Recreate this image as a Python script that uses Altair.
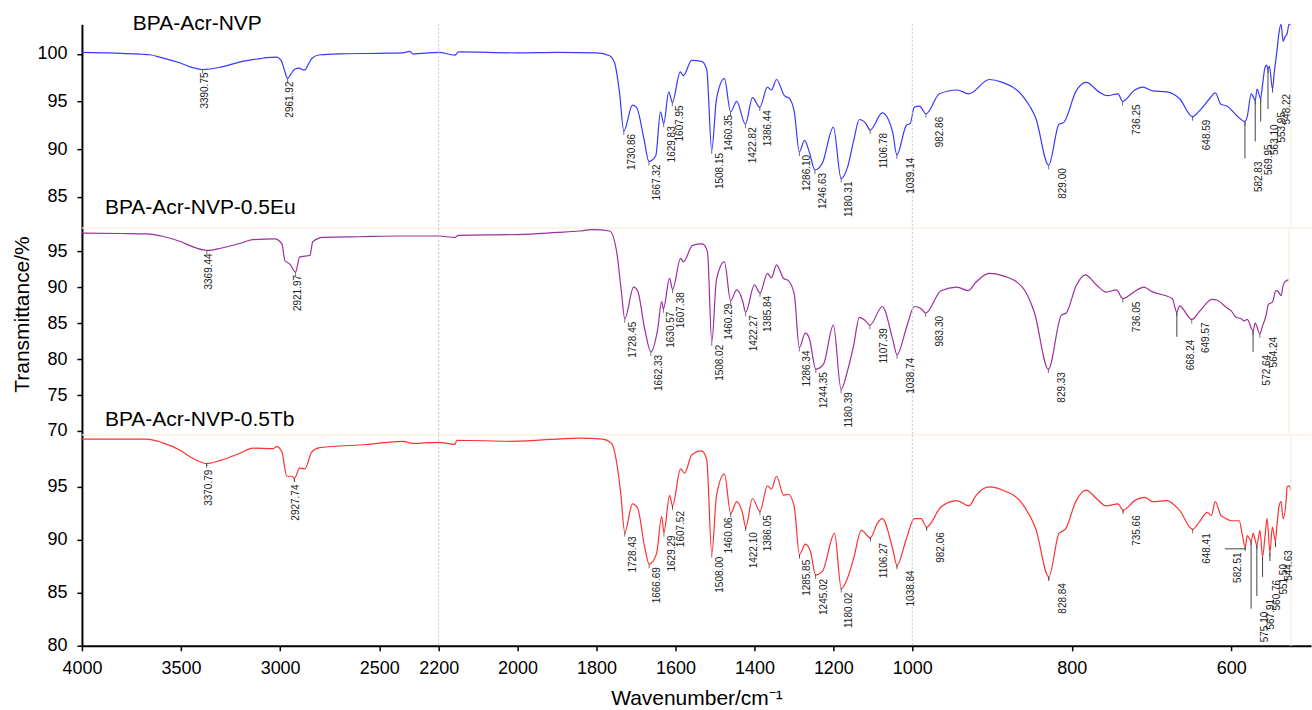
import altair as alt
import pandas as pd

FONT = "Liberation Sans"

# ---------------- x axis: broken wavenumber scale ----------------
X_TICKS = [4000, 3500, 3000, 2500, 2200, 2000, 1800, 1600, 1400, 1200, 1000, 800, 600]
X_BREAKS = [4000, 2200, 1000, 500]
X_PIXELS = [0, 357, 831, 1230]
PLOT_W = 1230
BREAK_LINES = [2200, 1000]

# ---------------- BPA-Acr-NVP ----------------
NVP_WN = [4000, 3900, 3800, 3700, 3657, 3600, 3500, 3450, 3390.75, 3300, 3200, 3100, 3067, 3017,
          2995, 2980, 2961.92, 2945, 2925, 2901, 2890, 2875, 2855, 2840, 2800, 2700, 2500, 2381,
          2346, 2331, 2200, 2159, 2150, 2000, 1900, 1800, 1767, 1754, 1742, 1730.86, 1709, 1699,
          1680, 1667.32, 1650, 1638, 1629.83, 1617, 1607.95, 1588, 1580, 1559, 1534, 1521, 1508.15,
          1496, 1476, 1460.35, 1445, 1422.82, 1405, 1386.44, 1367, 1357, 1344, 1324, 1311, 1299,
          1286.10, 1273, 1261, 1246.63, 1228, 1200, 1180.31, 1164, 1149, 1134, 1118, 1106.78, 1076,
          1050, 1039.14, 1015, 1005, 997.5, 991, 982.86, 966, 944, 929, 903.5, 887, 862, 845,
          829.00, 816, 810, 794.5, 782, 766, 755.6, 742, 736.25, 721, 711, 698.5, 681, 665, 648.59,
          640, 628, 620, 613, 605, 593, 582.83, 580, 575, 572.5, 569.95, 567.6, 563.10, 561, 557.6,
          556, 553.95, 552.3, 548.22, 546, 542.7, 540, 537.5, 535, 532.5, 530, 527.5, 525]
NVP_T = [100.15, 100.1, 100.05, 99.95, 99.9, 99.6, 99.0, 98.6, 98.35, 98.6, 99.15, 99.5, 99.6, 99.65,
         99.3, 98.4, 97.4, 97.9, 98.4, 98.5, 98.35, 98.3, 99.0, 99.5, 99.9, 100.0, 100.05, 100.1,
         100.25, 100.0, 100.15, 99.85, 100.2, 100.1, 100.15, 100.1, 99.8, 99.0, 96.0, 91.9, 94.6, 94.4,
         91.1, 88.7, 89.3, 93.9, 92.7, 96.0, 94.9, 98.1, 97.7, 99.3, 99.2, 98.4, 89.9,
         95.3, 97.4, 93.9, 95.0, 92.6, 95.4, 94.4, 96.5, 96.2, 97.3, 95.6, 95.3, 93.9,
         89.7, 90.9, 89.7, 87.8, 88.5, 92.3, 86.9, 88.1, 90.8, 93.1, 92.7, 92.0, 93.8,
         91.8, 89.4, 92.5, 92.7, 94.4, 94.5, 93.7, 95.8, 96.2, 95.8, 97.3, 97.0, 95.6, 93.2,
         88.3, 92.6, 92.8, 96.1, 97.0, 96.0, 95.6, 95.8, 95.0, 96.2, 96.5, 96.1, 96.0, 95.3, 93.4,
         94.0, 95.2, 95.9, 94.7, 94.5, 93.5, 92.9, 93.4, 95.8, 95.5, 95.1, 96.3, 95.3, 96.6, 98.6,
         98.8, 98.4, 98.7, 96.3, 98.1, 100.3, 102.3, 103.1, 101.3, 101.8, 102.1, 103.1, 103.0]
NVP_PEAKS = ["3390.75", "2961.92", "1730.86", "1667.32", "1629.83", "1607.95", "1508.15", "1460.35",
             "1422.82", "1386.44", "1286.10", "1246.63", "1180.31", "1106.78", "1039.14", "982.86",
             "829.00", "736.25", "648.59", "582.83", "569.95", "563.10", "553.95", "548.22"]
NVP_PEAK_T = [98.35, 97.4, 91.9, 88.7, 92.7, 94.9, 89.9, 93.9, 92.6, 94.4, 89.7, 87.8, 86.9, 92.0,
              89.4, 93.7, 88.3, 95.0, 93.4, 92.9, 95.1, 95.3, 98.4, 96.3]
NVP_LABEL_T = [98.35, 97.4, 91.9, 88.7, 92.7, 94.9, 89.9, 93.9, 92.6, 94.4, 89.7, 87.8, 86.9, 92.0,
               89.4, 93.7, 88.3, 95.0, 93.4, 89.0, 90.8, 92.9, 94.2, 96.1]

# ---------------- BPA-Acr-NVP-0.5Eu ----------------
EU_WN = [4000, 3800, 3672, 3600, 3500, 3450, 3369.44, 3300, 3200, 3138, 3027, 2991, 2976, 2951,
         2921.97, 2901, 2875, 2850, 2835, 2785, 2600, 2400, 2200, 2159, 2150, 2000, 1900, 1843,
         1810, 1767, 1749, 1737, 1728.45, 1706, 1696, 1678, 1662.33, 1645, 1635, 1630.57, 1615,
         1607.38, 1587, 1580, 1557, 1532, 1519, 1508.02, 1496, 1476, 1460.29, 1445, 1430, 1422.27,
         1400, 1385.84, 1367, 1357, 1344, 1326, 1314, 1299, 1286.34, 1271, 1261, 1244.35, 1225,
         1200, 1180.39, 1164, 1149, 1134, 1120, 1107.39, 1076, 1050, 1038.74, 1013, 997.5, 989,
         983.30, 964, 944, 930, 920, 903.5, 887, 862, 847, 829.33, 813, 807, 794.5, 783, 769, 757,
         744, 736.05, 721, 709.6, 700, 674, 668.24, 665, 649.57, 640, 624, 618, 606.5, 600, 594,
         587.5, 584, 580, 572.64, 570, 564.24, 561, 556, 553.5, 548.5, 544, 541, 537.5, 535, 531,
         527.5]
EU_T = [97.5, 97.45, 97.4, 97.1, 96.3, 95.7, 95.1, 95.4, 96.1, 96.6, 96.7, 96.0, 93.7, 93.2,
        92.1, 94.2, 94.3, 94.4, 96.3, 96.9, 97.0, 97.1, 97.1, 96.9, 97.2, 97.3, 97.6, 97.8,
        98.0, 97.8, 94.9, 89.3, 85.6, 90.0, 89.5, 84.2, 81.0, 84.2, 88.0, 87.0, 91.2,
        89.7, 94.0, 93.5, 95.8, 96.0, 94.9, 82.4, 91.1, 93.5, 88.1, 89.6, 88.1, 86.5,
        90.3, 89.2, 91.9, 91.3, 93.1, 91.2, 90.9, 89.0, 81.6, 83.6, 82.9, 78.6, 79.3,
        84.7, 75.8, 78.4, 81.8, 85.8, 85.4, 84.7, 87.3, 82.8, 80.6, 84.7, 87.3, 87.0,
        86.4, 89.5, 90.0, 89.5, 90.7, 91.9, 91.6, 90.0, 86.5, 78.6, 86.1, 86.4, 90.2, 91.7, 90.3, 89.3,
        89.6, 88.4, 89.4, 90.0, 89.4, 88.4, 86.5, 87.4, 85.5, 86.6, 88.3, 88.2, 87.2, 86.7, 85.8,
        85.6, 85.3, 85.5, 83.9, 85.0, 83.5, 84.5, 86.25, 87.6, 87.9, 89.5, 89.35, 88.8, 90.2, 90.9,
        91.0]
EU_PEAKS = ["3369.44", "2921.97", "1728.45", "1662.33", "1630.57", "1607.38", "1508.02", "1460.29",
            "1422.27", "1385.84", "1286.34", "1244.35", "1180.39", "1107.39", "1038.74", "983.30",
            "829.33", "736.05", "668.24", "649.57", "572.64", "564.24"]
EU_PEAK_T = [95.1, 92.1, 85.6, 81.0, 87.0, 89.7, 82.4, 88.1, 86.5, 89.2, 81.6, 78.6, 75.8, 84.7,
             80.6, 86.4, 78.6, 88.4, 86.5, 85.5, 83.9, 83.5]
EU_LABEL_T = [95.1, 92.1, 85.6, 81.0, 87.0, 89.7, 82.4, 88.1, 86.5, 89.2, 81.6, 78.6, 75.8, 84.7,
              80.6, 86.4, 78.6, 88.4, 83.1, 85.5, 81.0, 83.5]

# ---------------- BPA-Acr-NVP-0.5Tb ----------------
TB_WN = [4000, 3800, 3672, 3600, 3500, 3450, 3370.79, 3300, 3200, 3138, 3037, 3017, 2991, 2966,
         2941, 2927.74, 2901, 2875, 2840, 2800, 2563, 2381, 2331, 2200, 2159, 2154, 2013, 1843,
         1785, 1762, 1749, 1739, 1728.43, 1709, 1696, 1678, 1666.69, 1648, 1635, 1629.29, 1615,
         1607.52, 1587, 1577, 1559, 1534, 1521, 1508.00, 1496, 1476, 1460.06, 1445, 1430, 1422.10,
         1405, 1386.05, 1367, 1357, 1344, 1326, 1314, 1299, 1285.85, 1271, 1258, 1245.02, 1228,
         1197, 1180.02, 1164, 1149, 1129, 1106.27, 1088, 1076, 1050, 1038.84, 1015, 997.5, 989,
         982.06, 964, 944, 929, 920, 903.5, 887, 862, 845, 828.84, 816, 808, 794.5, 782, 769, 757,
         742, 735.66, 721, 708.6, 698.5, 681, 665, 648.41, 640, 630, 625, 620, 613, 606.5, 600, 590,
         586, 582.51, 580, 575.10, 572.5, 567.91, 564, 560.76, 557.6, 555, 551.50, 548.5, 544.63,
         542.7, 540, 537.5, 535, 531, 530, 527.5, 525]
TB_T = [99.5, 99.5, 99.5, 99.2, 98.4, 97.8, 97.2, 97.5, 98.2, 98.65, 98.6, 98.8, 98.3, 96.0,
        96.0, 95.8, 96.8, 96.7, 98.3, 98.7, 99.0, 99.3, 99.1, 99.2, 99.0, 99.4, 99.3, 99.6,
        99.5, 99.1, 97.3, 94.5, 90.7, 93.4, 93.0, 89.3, 87.7, 88.7, 92.2, 90.7, 94.2,
        93.2, 96.7, 96.3, 98.0, 98.4, 97.6, 88.7, 94.2, 96.2, 92.5, 93.6, 92.5, 91.2,
        93.9, 92.7, 95.1, 94.8, 96.0, 94.2, 94.3, 93.1, 88.6, 89.6, 88.9, 86.7, 87.0,
        90.6, 85.4, 86.4, 88.2, 90.9, 90.2, 91.6, 92.0, 89.2, 87.6, 90.1, 92.0, 92.0,
        91.2, 93.1, 93.7, 93.2, 94.2, 95.0, 94.7, 93.4, 91.0, 86.5, 90.6, 91.0, 93.7, 94.7, 93.9, 93.2,
        93.4, 92.8, 93.7, 94.0, 93.6, 93.7, 92.8, 91.0, 91.7, 92.6, 92.3, 93.6, 92.3, 92.0, 91.8, 91.8,
        90.4, 89.3, 90.4, 89.9, 90.6, 89.5, 90.9, 88.4, 90.4, 92.0, 88.8, 91.2, 89.9,
        91.4, 93.2, 93.6, 92.0, 93.9, 95.0, 95.1, 94.65]
TB_PEAKS = ["3370.79", "2927.74", "1728.43", "1666.69", "1629.29", "1607.52", "1508.00", "1460.06",
            "1422.10", "1386.05", "1285.85", "1245.02", "1180.02", "1106.27", "1038.84", "982.06",
            "828.84", "735.66", "648.41", "582.51", "575.10", "567.91", "560.76", "551.50", "544.63"]
TB_PEAK_T = [97.2, 95.8, 90.7, 87.7, 90.7, 93.2, 88.7, 92.5, 91.2, 92.7, 88.6, 86.7, 85.4, 90.2,
             87.6, 91.2, 86.5, 92.8, 91.0, 89.3, 89.9, 89.5, 88.4, 88.8, 89.9]
TB_LABEL_T = [96.9, 95.5, 90.6, 87.7, 90.7, 93.0, 88.7, 92.4, 91.0, 92.6, 88.4, 86.6, 85.3, 90.0,
              87.4, 91.0, 86.2, 92.6, 90.9, 89.1, 83.5, 84.7, 86.5, 88.0, 89.3]
# label 582.51 sits left of its peak, joined by a short horizontal leader
TB_LEADER = {"wn": 582.51, "wn2": 608.0, "t": 89.15}

# labels pushed sideways to clear their neighbours
LABEL_SIDE = {"1460.35": "l", "1460.29": "l", "1460.06": "l", "582.51": "ll"}
SIDE_DY = {"a": -3, "b": 3, "c": 9, "l": -7, "ll": -12}


def side_of(label):
    if label in LABEL_SIDE:
        return LABEL_SIDE[label]
    w = float(label)
    if w > 2200:
        return "a"
    if w > 1150:
        return "b"
    return "c"


X_SCALE = alt.Scale(domain=X_BREAKS, range=X_PIXELS, nice=False, zero=False)
X_AXIS = alt.Axis(values=X_TICKS, format="d", title="Wavenumber/cm⁻¹",
                  labelFont=FONT, titleFont=FONT, labelFontSize=18, titleFontSize=21,
                  titleFontWeight="normal", labelColor="black", titleColor="black",
                  tickSize=5, tickWidth=1.5, tickColor="black",
                  domainColor="black", domainWidth=2, labelPadding=9, titlePadding=10,
                  labelFlush=False, labelOverlap=False, grid=False)


def panel(wn, t, color, peaks, peak_t, label_t, y_domain, y_ticks, height,
          name, name_wn, name_t, x_axis=False, y_title=None, leader=None, separator=True):
    ys = alt.Scale(domain=y_domain, nice=False, zero=False)
    axis_kw = dict(values=y_ticks, format="d", labelFont=FONT, labelFontSize=18,
                   labelColor="black", tickSize=5, tickWidth=1.5, tickColor="black",
                   domainColor="black", domainWidth=2, labelPadding=10,
                   labelFlush=False, labelOverlap=False, grid=False)
    if y_title:
        axis_kw.update(title=y_title, titleFont=FONT, titleFontSize=21,
                       titleFontWeight="normal", titleColor="black", titlePadding=14, titleY=86)
    else:
        axis_kw.update(title=None)
    y_axis = alt.Axis(**axis_kw)
    x_axis_obj = X_AXIS if x_axis else None

    def X(field="wn"):
        return alt.X(f"{field}:Q", scale=X_SCALE, axis=x_axis_obj)

    def Y(field):
        return alt.Y(f"{field}:Q", scale=ys, axis=y_axis)

    spec = pd.DataFrame({"wn": wn, "t": t})
    ann = pd.DataFrame({"label": peaks, "wn": [float(p) for p in peaks],
                        "t_peak": peak_t, "t_label": label_t})
    ann["side"] = [side_of(p) for p in peaks]

    layers = []
    # spectrum
    layers.append(alt.Chart(spec).mark_line(color=color, strokeWidth=1.2,
                                            interpolate="monotone").encode(
        x=X(), y=Y("t"), order=alt.Order("wn:Q", sort="descending")))
    # faint panel frame lines
    layers.append(alt.Chart(pd.DataFrame({"wn": [wn[-1]]})).mark_rule(
        color="#fbf1df", strokeWidth=1.5).encode(x=X()))
    if separator:
        layers.append(alt.Chart(pd.DataFrame({"t": [y_domain[0]]})).mark_rule(
            color="#fbf1df", strokeWidth=1.5).encode(y=Y("t")))
    # dotted break lines
    layers.append(alt.Chart(pd.DataFrame({"wn": BREAK_LINES})).mark_rule(
        color="#c4c4c4", strokeDash=[2, 2], strokeWidth=1).encode(x=X()))
    # peak markers and leaders
    layers.append(alt.Chart(ann).mark_tick(orient="vertical", size=4, thickness=1,
                                           color="#333333", yOffset=2).encode(
        x=X(), y=Y("t_peak")))
    layers.append(alt.Chart(ann).mark_rule(color="#444444", strokeWidth=1).encode(
        x=X(), y=Y("t_peak"), y2="t_label:Q"))
    if leader:
        layers.append(alt.Chart(pd.DataFrame([leader])).mark_rule(
            color="#444444", strokeWidth=1).encode(x=X(), x2="wn2:Q", y=Y("t")))
    # peak labels
    for side, dy in SIDE_DY.items():
        layers.append(alt.Chart(ann).transform_filter(alt.datum.side == side).mark_text(
            angle=270, align="right", baseline="top", dx=-3, dy=dy,
            font=FONT, fontSize=10, color="#222222").encode(
            x=X(), y=Y("t_label"), text="label:N"))
    # sample name
    layers.append(alt.Chart(pd.DataFrame({"wn": [name_wn], "t": [name_t], "name": [name]}))
                  .mark_text(align="left", baseline="alphabetic", font=FONT, fontSize=21,
                             color="black")
                  .encode(x=X(), y=Y("t"), text="name:N"))
    return alt.layer(*layers).properties(width=PLOT_W, height=height)


top = panel(NVP_WN, NVP_T, "#3838ff", NVP_PEAKS, NVP_PEAK_T, NVP_LABEL_T,
            [81.7, 103.1], [85, 90, 95, 100], 204, "BPA-Acr-NVP", 3743, 102.5)
middle = panel(EU_WN, EU_T, "#9b2f9e", EU_PEAKS, EU_PEAK_T, EU_LABEL_T,
               [69.45, 98.2], [70, 75, 80, 85, 90, 95], 207, "BPA-Acr-NVP-0.5Eu", 3884, 100.1,
               y_title="Transmittance/%")
bottom = panel(TB_WN, TB_T, "#ff3030", TB_PEAKS, TB_PEAK_T, TB_LABEL_T,
               [80, 99.9], [80, 85, 90, 95], 211, "BPA-Acr-NVP-0.5Tb", 3884, 100.75,
               x_axis=True, leader=TB_LEADER, separator=False)

chart = alt.vconcat(top, middle, bottom, spacing=0, bounds="flush").configure(
    padding={"left": 11, "top": 12, "right": 0, "bottom": 0},
    background="white",
).configure_view(stroke=None)

chart.save("out.html", embed_options={"renderer": "svg", "actions": False})
